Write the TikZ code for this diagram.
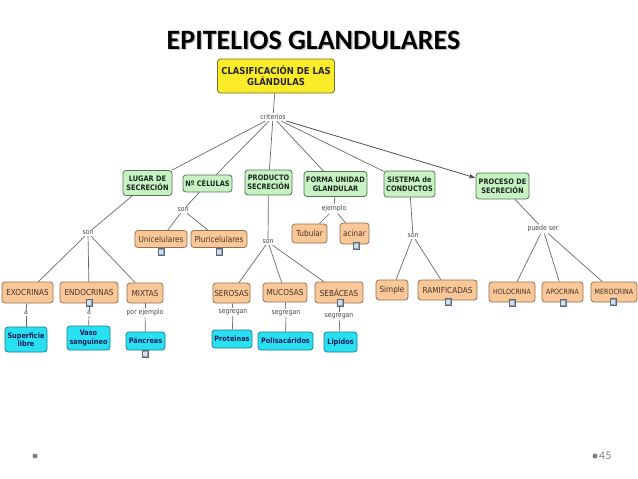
\documentclass[tikz,border=0pt]{standalone}
\usepackage{fontspec}
\setmainfont{DejaVu Sans}
\newfontfamily\bx[FakeStretch=0.88]{DejaVu Sans}
\newfontfamily\ttl{Carlito}
\newfontfamily\ftr{Lato}
\usetikzlibrary{arrows.meta}
\definecolor{yfill}{RGB}{250,236,40}
\definecolor{ydraw}{RGB}{120,110,40}
\definecolor{gfill}{RGB}{200,242,196}
\definecolor{gdraw}{RGB}{85,115,85}
\definecolor{gtext}{RGB}{25,40,30}
\definecolor{ofill}{RGB}{250,200,152}
\definecolor{odraw}{RGB}{150,110,80}
\definecolor{otext}{RGB}{70,50,40}
\definecolor{cfill}{RGB}{40,224,240}
\definecolor{cdraw}{RGB}{20,130,150}
\definecolor{ctext}{RGB}{15,30,90}
\definecolor{ltext}{RGB}{70,70,70}
\definecolor{lcol}{RGB}{105,105,105}
\definecolor{icfill}{RGB}{140,165,190}
\definecolor{icdraw}{RGB}{90,105,120}
\definecolor{dotcol}{RGB}{125,125,125}
\begin{document}
\begin{tikzpicture}[x=1pt,y=-1pt,
  box/.style={draw, rounded corners=3pt, line width=0.8pt, align=center, inner sep=1pt},
  gbox/.style={box, fill=gfill, draw=gdraw, text=gtext, font={\bx\bfseries\fontsize{7.5}{8.7}\selectfont}},
  obox/.style={box, fill=ofill, draw=odraw, text=otext, font={\bx\fontsize{8.3}{9}\selectfont}},
  osmall/.style={obox, font={\bx\fontsize{7.2}{8}\selectfont}},
  cbox/.style={box, fill=cfill, draw=cdraw, text=ctext, font={\bx\bfseries\fontsize{7.4}{8.5}\selectfont}},
  lbl/.style={font={\bx\fontsize{7}{7.5}\selectfont}, text=ltext, inner sep=1pt},
  conn/.style={draw=lcol, line width=0.7pt},
  ico/.style={draw=icdraw, fill=icfill, line width=0.4pt, minimum width=6pt, minimum height=7pt, inner sep=0pt,
    path picture={\fill[white!65!icfill] ([shift={(-1.6pt,-2.2pt)}]path picture bounding box.center) rectangle ([shift={(1.6pt,2.2pt)}]path picture bounding box.center);}}
]
\useasboundingbox (0,0) rectangle (638,479);
\fill[white] (0,0) rectangle (638,479);

% title
\node[text=gray!45, font={\ttl\bfseries\fontsize{28}{31}\selectfont}] (tshadow) at (314.8,41.3) {EPITELIOS GLANDULARES};
\node[text=black, font={\ttl\bfseries\fontsize{28}{31}\selectfont}] (title) at (313.5,40) {EPITELIOS GLANDULARES};

% root
\node[box, fill=yfill, draw=ydraw, text=black!85, font={\bx\bfseries\fontsize{9.6}{10.8}\selectfont}, minimum width=117pt, minimum height=34pt] (root) at (276,76) {CLASIFICACIÓN DE LAS\\GLÁNDULAS};
\node[lbl] (crit) at (273,117) {criterios};

% row 1
\node[gbox, minimum width=49pt, minimum height=25pt] (lugar) at (147.5,183) {LUGAR DE\\SECRECIÓN};
\node[gbox, minimum width=49pt, minimum height=17pt] (ncel) at (207.5,183.5) {Nº CÉLULAS};
\node[gbox, minimum width=47pt, minimum height=25pt] (prod) at (268.5,182.5) {PRODUCTO\\SECRECIÓN};
\node[gbox, minimum width=63pt, minimum height=25pt] (forma) at (335.5,184) {FORMA UNIDAD\\GLANDULAR};
\node[gbox, minimum width=51pt, minimum height=26pt] (sist) at (409.5,184) {SISTEMA de\\CONDUCTOS};
\node[gbox, minimum width=53pt, minimum height=26pt] (proc) at (502.5,186) {PROCESO DE\\SECRECIÓN};

% linking labels
\node[lbl] (son1) at (88,233) {son};
\node[lbl] (son2) at (183,210) {son};
\node[lbl] (son3) at (268,242) {son};
\node[lbl] (ejem) at (334,209) {ejemplo};
\node[lbl] (son4) at (413,236) {son};
\node[lbl] (puede) at (543,229) {puede ser};

% row 2
\node[obox, minimum width=52pt, minimum height=17pt] (unic) at (161,239) {Unicelulares};
\node[obox, minimum width=56pt, minimum height=17pt] (pluri) at (219,239) {Pluricelulares};
\node[obox, minimum width=35pt, minimum height=19pt] (tub) at (309.5,233.5) {Tubular};
\node[obox, minimum width=29pt, minimum height=21pt] (acin) at (354.5,233.5) {acinar};

% row 3
\node[obox, minimum width=51pt, minimum height=21pt] (exo) at (27.5,292.5) {EXOCRINAS};
\node[obox, minimum width=58pt, minimum height=21pt] (endo) at (89,292.5) {ENDOCRINAS};
\node[obox, minimum width=36pt, minimum height=20pt] (mixt) at (145,293) {MIXTAS};
\node[obox, minimum width=37pt, minimum height=20pt] (ser) at (231.5,293) {SEROSAS};
\node[obox, minimum width=44pt, minimum height=19pt] (muc) at (285,292.5) {MUCOSAS};
\node[obox, minimum width=48pt, minimum height=21pt] (seb) at (339,292.5) {SEBÁCEAS};
\node[obox, minimum width=32pt, minimum height=20pt] (simp) at (392,290) {Simple};
\node[obox, minimum width=59pt, minimum height=20pt] (ram) at (447.5,290) {RAMIFICADAS};
\node[osmall, minimum width=46pt, minimum height=20pt] (holo) at (512,292) {HOLOCRINA};
\node[osmall, minimum width=41pt, minimum height=20pt] (apo) at (562.5,292) {APOCRINA};
\node[osmall, minimum width=46pt, minimum height=20pt] (mero) at (614,292) {MEROCRINA};

% row 3 labels
\node[lbl] (a1) at (26,313) {a};
\node[lbl] (a2) at (89,313) {a};
\node[lbl] (porej) at (145,313) {por ejemplo};
\node[lbl] (seg1) at (233,312) {segregan};
\node[lbl] (seg2) at (286,313) {segregan};
\node[lbl] (seg3) at (339,316) {segregan};

% row 4
\node[cbox, minimum width=42pt, minimum height=25pt] (sup) at (26,339.5) {Superficie\\libre};
\node[cbox, minimum width=43pt, minimum height=24pt] (vaso) at (88.5,338) {Vaso\\sanguineo};
\node[cbox, minimum width=39pt, minimum height=18pt] (panc) at (145.5,341) {Páncreas};
\node[cbox, minimum width=40pt, minimum height=18pt] (prot) at (232,339) {Proteinas};
\node[cbox, minimum width=55pt, minimum height=18pt] (poli) at (285.5,341) {Polisacáridos};
\node[cbox, minimum width=33pt, minimum height=20pt] (lip) at (340.5,342) {Lipidos};

% connectors
\draw[conn] (root) -- (crit);
\draw[conn] (crit) -- (lugar);
\draw[conn] (crit) -- (ncel);
\draw[conn] (crit) -- (prod);
\draw[conn] (crit) -- (forma);
\draw[conn] (crit) -- (sist);
\draw[conn, -{Latex[length=6pt,width=4.5pt]}, draw=black!70, fill=black!80] (crit) -- (proc);

\draw[conn] (lugar) -- (son1);
\draw[conn] (son1) -- (exo);
\draw[conn] (son1) -- (endo);
\draw[conn] (son1) -- (mixt);
\draw[conn] (ncel) -- (son2);
\draw[conn] (son2) -- (unic);
\draw[conn] (son2) -- (pluri);
\draw[conn] (prod) -- (son3);
\draw[conn] (son3) -- (ser);
\draw[conn] (son3) -- (muc);
\draw[conn] (son3) -- (seb);
\draw[conn] (forma) -- (ejem);
\draw[conn] (ejem) -- (tub);
\draw[conn] (ejem) -- (acin);
\draw[conn] (sist) -- (son4);
\draw[conn] (son4) -- (simp);
\draw[conn] (son4) -- (ram);
\draw[conn] (proc) -- (puede);
\draw[conn] (puede) -- (holo);
\draw[conn] (puede) -- (apo);
\draw[conn] (puede) -- (mero);

\draw[conn] (exo) -- (a1);
\draw[conn] (a1) -- (sup);
\draw[conn] (endo) -- (a2);
\draw[conn] (a2) -- (vaso);
\draw[conn] (mixt) -- (porej);
\draw[conn] (porej) -- (panc);
\draw[conn] (ser) -- (seg1);
\draw[conn] (seg1) -- (prot);
\draw[conn] (muc) -- (seg2);
\draw[conn] (seg2) -- (poli);
\draw[conn] (seb) -- (seg3);
\draw[conn] (seg3) -- (lip);

% icons
\node[ico] (i1) at (89,302.5) {};
\node[ico] (i2) at (161,252) {};
\node[ico] (i3) at (219,252) {};
\node[ico] (i4) at (356,246) {};
\node[ico] (i5) at (145,354) {};
\node[ico] (i6) at (340,302.5) {};
\node[ico] (i7) at (448,302) {};
\node[ico] (i8) at (512,303) {};
\node[ico] (i9) at (563,303) {};
\node[ico] (i10) at (613,302) {};

% footer
\fill[dotcol] (35,456) circle (2.5pt);
\fill[dotcol] (595,456) circle (2.5pt);
\node[text=dotcol, font={\ftr\fontsize{10.5}{12}\selectfont}, anchor=west, inner sep=0pt] (pnum) at (599,456) {45};
\end{tikzpicture}
\end{document}
